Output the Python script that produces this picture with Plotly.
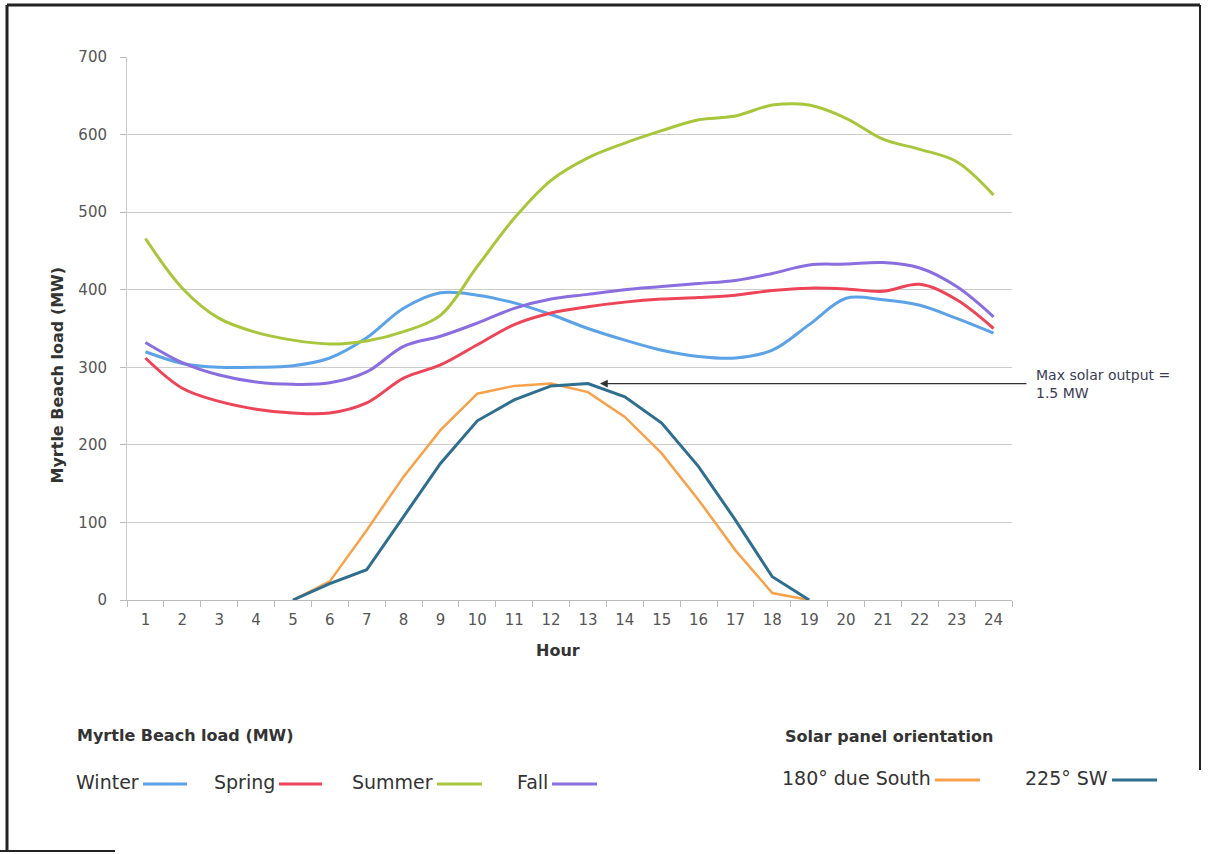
import plotly.graph_objects as go

hours = list(range(1, 25))
winter = [320, 305, 300, 300, 302, 312, 338, 376, 396, 393, 383, 368, 350, 335, 322, 314, 312, 322, 355, 389, 387, 380, 363, 344]
spring = [312, 273, 256, 246, 241, 241, 254, 286, 303, 329, 355, 370, 378, 384, 388, 390, 393, 399, 402, 401, 398, 407, 387, 350]
summer = [466, 402, 363, 345, 335, 330, 334, 346, 367, 430, 492, 541, 570, 589, 605, 619, 624, 638, 638, 621, 594, 581, 565, 522]
fall = [332, 306, 290, 281, 278, 280, 294, 327, 340, 357, 376, 388, 394, 400, 404, 408, 412, 421, 432, 433, 435, 428, 404, 365]
solar_hours = list(range(5, 20))
south_180 = [0, 24, 90, 159, 219, 266, 276, 279, 268, 236, 189, 129, 64, 9, 0]
sw_225 = [0, 21, 39, 107, 176, 231, 258, 276, 279, 262, 228, 172, 103, 30, 0]
y_ticks = [0, 100, 200, 300, 400, 500, 600, 700]

C_WINTER = "#5ca2e6"
C_SPRING = "#ee4458"
C_SUMMER = "#a8c63c"
C_FALL = "#8a6ee0"
C_SOUTH = "#f7a24a"
C_SW = "#2f6e8e"

FONT = "DejaVu Sans"
W, H = 1211, 854
L, R, T, B = 127, 199, 57, 254
PW, PH = W - L - R, H - T - B


def px(X):
    return (X - L) / PW


def py(Y):
    return (H - B - Y) / PH


fig = go.Figure()
for name, vals, col in [("Winter", winter, C_WINTER), ("Spring", spring, C_SPRING),
                        ("Summer", summer, C_SUMMER), ("Fall", fall, C_FALL)]:
    fig.add_trace(go.Scatter(x=hours, y=vals, mode="lines", name=name,
                             line=dict(color=col, width=3, shape="spline", smoothing=1.0)))
fig.add_trace(go.Scatter(x=solar_hours, y=south_180, mode="lines", name="180° due South",
                         line=dict(color=C_SOUTH, width=2.5)))
fig.add_trace(go.Scatter(x=solar_hours, y=sw_225, mode="lines", name="225° SW",
                         line=dict(color=C_SW, width=3)))

annotations = []
shapes = []

# y axis title
annotations.append(dict(xref="paper", yref="paper", x=px(45), y=py(375), text="<b>Myrtle Beach load (MW)</b>",
                        textangle=-90, showarrow=False, font=dict(family=FONT, size=16, color="#333333")))
# x axis title
annotations.append(dict(xref="paper", yref="paper", x=px(558), y=py(662), text="<b>Hour</b>",
                        showarrow=False, font=dict(family=FONT, size=16, color="#333333")))

# arrow annotation
annotations.append(dict(x=13, y=279, xref="x", yref="y", text="", showarrow=True,
                        ax=440, ay=0, axref="pixel", ayref="pixel", standoff=12,
                        arrowhead=2, arrowsize=1.3, arrowwidth=1.2, arrowcolor="#333333"))
annotations.append(dict(xref="paper", yref="paper", x=px(1034), y=py(384), xanchor="left", yanchor="middle",
                        text="Max solar output =<br>1.5 MW", align="left", showarrow=False,
                        font=dict(family=FONT, size=14, color="#3a3d55")))

# legend titles
annotations.append(dict(xref="paper", yref="paper", x=px(75), y=py(735), xanchor="left", yanchor="middle",
                        text="<b>Myrtle Beach load (MW)</b>", showarrow=False,
                        font=dict(family=FONT, size=16, color="#333333")))
annotations.append(dict(xref="paper", yref="paper", x=px(783), y=py(736), xanchor="left", yanchor="middle",
                        text="<b>Solar panel orientation</b>", showarrow=False,
                        font=dict(family=FONT, size=16, color="#333333")))

legend_items = [
    ("Winter", C_WINTER, 143, 187, 782),
    ("Spring", C_SPRING, 279, 322, 782),
    ("Summer", C_SUMMER, 437, 482, 782),
    ("Fall", C_FALL, 552, 597, 782),
    ("180° due South", C_SOUTH, 935, 980, 778),
    ("225° SW", C_SW, 1112, 1157, 778),
]
for text, col, x0, x1, yy in legend_items:
    annotations.append(dict(xref="paper", yref="paper", x=px(x0 - 2), y=py(yy), xanchor="right", yanchor="middle",
                            text=text, showarrow=False, font=dict(family=FONT, size=19, color="#333333")))
    shapes.append(dict(type="line", xref="paper", yref="paper", x0=px(x0), x1=px(x1), y0=py(yy + 2), y1=py(yy + 2),
                       line=dict(color=col, width=3)))

# figure border
bc = "#222222"
shapes.append(dict(type="line", xref="paper", yref="paper", x0=px(7), x1=px(1200), y0=py(5), y1=py(5), line=dict(color=bc, width=3)))
shapes.append(dict(type="line", xref="paper", yref="paper", x0=px(7), x1=px(7), y0=py(5), y1=py(851), line=dict(color=bc, width=3)))
shapes.append(dict(type="line", xref="paper", yref="paper", x0=px(1200), x1=px(1200), y0=py(5), y1=py(770), line=dict(color=bc, width=2)))
shapes.append(dict(type="line", xref="paper", yref="paper", x0=px(0), x1=px(115), y0=py(851), y1=py(851), line=dict(color=bc, width=2)))

fig.update_layout(
    width=W, height=H,
    margin=dict(l=L, r=R, t=T, b=B),
    paper_bgcolor="white", plot_bgcolor="white",
    showlegend=False,
    annotations=annotations,
    shapes=shapes,
    xaxis=dict(range=[0.5, 24.5], tickmode="array", tickvals=hours, ticktext=[str(h) for h in hours],
               ticks="", showgrid=False, zeroline=False, showline=True, linecolor="#bbbbbb", linewidth=1,
               tickfont=dict(family=FONT, size=15, color="#555555"), ticklabelstandoff=6,
               minor=dict(ticks="outside", tick0=0.5, dtick=1, ticklen=6, tickcolor="#bbbbbb", showgrid=False)),
    yaxis=dict(range=[0, 700], tickmode="array", tickvals=y_ticks, ticks="outside", ticklen=6,
               tickcolor="#bbbbbb", showgrid=True, gridcolor="#cccccc", gridwidth=1, zeroline=False,
               showline=True, linecolor="#cccccc", linewidth=1,
               tickfont=dict(family=FONT, size=15, color="#555555"), ticklabelstandoff=10),
)

fig.write_html("out.html", config={"displayModeBar": False},
               post_script="document.body.style.margin='0';document.body.style.overflow='hidden';")
